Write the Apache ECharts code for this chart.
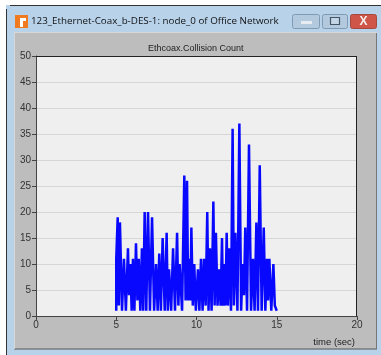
<!DOCTYPE html>
<html><head><meta charset="utf-8">
<style>html,body{margin:0;padding:0;background:#fff}#c{width:381px;height:355px}</style>
<script src="https://cdn.jsdelivr.net/npm/echarts@6/dist/echarts.min.js"></script>
</head><body><div id="c"></div>
<script>
const windowTitle = "123_Ethernet-Coax_b-DES-1: node_0 of Office Network";
const chartTitle = "Ethcoax.Collision Count";
const xAxisName = "time (sec)";
const times = [5.0,5.0,5.02,5.09,5.16,5.23,5.36,5.48,5.6,5.73,5.8,5.88,5.96,6.04,6.13,6.23,6.32,6.40,6.5,6.60,6.68,6.77,6.87,6.98,7.1,7.23,7.36,7.48,7.58,7.68,7.78,7.89,8.02,8.14,8.21,8.29,8.42,8.54,8.66,8.79,8.87,8.95,9.1,9.24,9.32,9.41,9.48,9.55,9.62,9.68,9.77,9.86,9.96,10.09,10.18,10.28,10.38,10.47,10.57,10.67,10.75,10.84,10.94,11.05,11.13,11.21,11.31,11.42,11.5,11.59,11.65,11.71,11.8,11.88,11.96,12.05,12.15,12.25,12.33,12.42,12.55,12.67,12.78,12.88,12.96,13.04,13.15,13.27,13.4,13.52,13.62,13.73,13.83,13.94,14.06,14.19,14.29,14.39,14.46,14.54,14.66,14.79,14.88,14.95,15.0];
const counts = [1,11,11,19,2,18,1,11,1,13,4,10,1,11,1,14,3,11,1,13,1,20,1,20,1,19,1,10,1,12,1,15,1,16,1,9,1,13,1,16,2,10,1,27,3,26,3,11,3,17,2,10,1,9,1,11,1,11,2,20,1,13,1,22,2,16,2,9,2,15,2,10,2,16,2,13,1,36,2,16,1,37,1,10,4,17,1,33,1,11,1,18,1,29,1,17,1,11,3,11,1,10,2,2,1];

const chart = echarts.init(document.getElementById('c'), null, {renderer:'canvas'});
const bg = (x,y,w,h,fill,z,extra)=>Object.assign({type:'rect',silent:true,z:z,shape:{x,y,width:w,height:h},style:{fill}},extra||{});
chart.setOption({
  animation:false,
  backgroundColor:'#ffffff',
  title:{text:chartTitle,left:148,top:49,padding:0,textAlign:'left',textVerticalAlign:'middle',
    textStyle:{fontFamily:'Liberation Sans',fontSize:9,fontWeight:'normal',color:'#222'}},
  grid:{left:36,top:56,width:321,height:260,show:true,backgroundColor:'#efefef',borderColor:'#222',borderWidth:0},
  xAxis:{type:'value',min:0,max:20,interval:5,
    name:xAxisName,nameLocation:'end',nameGap:0,
    nameTextStyle:{fontFamily:'Liberation Sans',fontSize:9.5,color:'#222',align:'right',verticalAlign:'top',padding:[21,2,0,0]},
    axisLine:{show:true,onZero:false,lineStyle:{color:'#444',width:1}},
    axisTick:{show:true,length:4,lineStyle:{color:'#444'}},
    axisLabel:{fontFamily:'Liberation Sans',fontSize:10,color:'#333',margin:4},
    splitLine:{show:false}},
  yAxis:{type:'value',min:0,max:50,interval:5,
    axisLine:{show:true,onZero:false,lineStyle:{color:'#444',width:1}},
    axisTick:{show:true,length:4,lineStyle:{color:'#444'}},
    axisLabel:{fontFamily:'Liberation Sans',fontSize:10,color:'#333',margin:5},
    splitLine:{show:true,lineStyle:{color:'#d6d6d6',width:1}}},
  series:[{type:'line',data:times.map((t,i)=>[t,counts[i]]),showSymbol:false,symbol:'none',
    lineStyle:{color:'#0808ff',width:2.5,join:'bevel'},clip:true,z:5}],
  graphic:[
    bg(6,5,375,350,'#b8d2ea',-10),
    {type:'line',silent:true,z:-9,shape:{x1:10,y1:5.5,x2:381,y2:5.5},style:{stroke:'#333',lineWidth:1}},
    {type:'line',silent:true,z:-9,shape:{x1:6.5,y1:9,x2:6.5,y2:355},style:{stroke:'#333',lineWidth:1}},
    bg(14,32,363,317,'#bdbdbd',-8),
    {type:'line',silent:true,z:-7,shape:{x1:14,y1:349,x2:377,y2:349},style:{stroke:'#555',lineWidth:1}},
    {type:'line',silent:true,z:-7,shape:{x1:376.5,y1:32,x2:376.5,y2:349},style:{stroke:'#777',lineWidth:1}},
    {type:'line',silent:true,z:-7,shape:{x1:14,y1:32.5,x2:377,y2:32.5},style:{stroke:'#d8d8d8',lineWidth:1}},
    {type:'line',silent:true,z:-7,shape:{x1:14.5,y1:32,x2:14.5,y2:349},style:{stroke:'#d8d8d8',lineWidth:1}},
    {type:'line',silent:true,z:6,shape:{x1:36,y1:56.5,x2:357,y2:56.5},style:{stroke:'#222',lineWidth:1}},
    {type:'line',silent:true,z:6,shape:{x1:356.5,y1:56,x2:356.5,y2:316},style:{stroke:'#222',lineWidth:1}},
    bg(15,15,13,13,'#f07a20',-6),
    bg(20,18,6,3,'#ffffff',-5),
    bg(20,18,3,9,'#ffffff',-5),
    {type:'text',silent:true,z:-5,x:31,y:21,style:{text:windowTitle,fontFamily:'Open Sans',fontSize:9.8,fill:'#111',verticalAlign:'middle',align:'left'}},
    {type:'rect',silent:true,z:-6,shape:{x:292.5,y:14.5,width:27,height:14,r:2},style:{fill:'#b3cade',stroke:'#7f9ab5',lineWidth:1}},
    bg(301,21,11,3,'#e6ecf2',-5),
    {type:'rect',silent:true,z:-6,shape:{x:322.5,y:14.5,width:25,height:14,r:2},style:{fill:'#b3cade',stroke:'#7f9ab5',lineWidth:1}},
    {type:'rect',silent:true,z:-5,shape:{x:330.5,y:17.5,width:9,height:7},style:{fill:'#c4d6e6',stroke:'#44556a',lineWidth:1.2}},
    {type:'rect',silent:true,z:-6,shape:{x:350.5,y:14.5,width:26,height:14,r:2},style:{fill:'#cf5548',stroke:'#a5493f',lineWidth:1}},
    {type:'text',silent:true,z:-5,x:363.5,y:21.5,style:{text:'X',fontFamily:'Liberation Sans',fontWeight:'bold',fontSize:12,fill:'#f4f0ee',align:'center',verticalAlign:'middle'}}
  ]
});
</script></body></html>
